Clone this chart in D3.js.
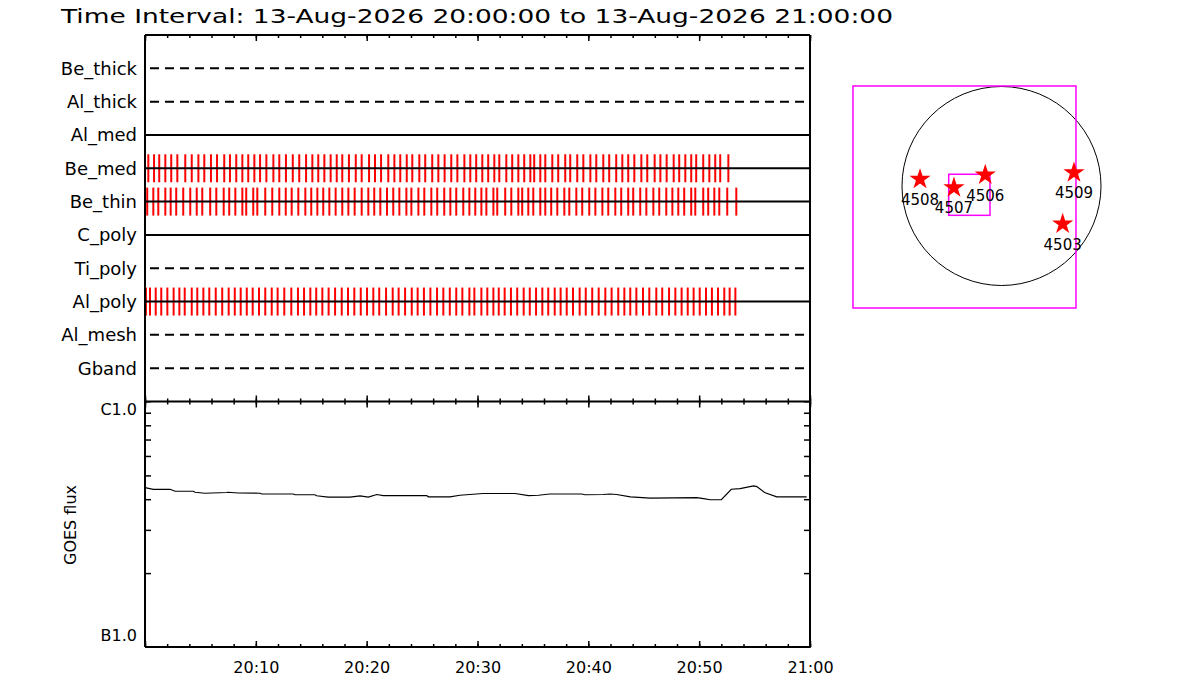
<!DOCTYPE html>
<html>
<head>
<meta charset="utf-8">
<script src="https://cdn.jsdelivr.net/npm/d3@7"></script>
<style>
	body { margin: 0; background: #fff; }
	text { font-family: "DejaVu Sans", sans-serif; fill: #000; }
</style>
</head>
<body>
<div id="chart"></div>
<script>

// ---- data ----
const titleText = "Time Interval: 13-Aug-2026 20:00:00 to 13-Aug-2026 21:00:00";
const startTime = Date.UTC(2026, 7, 13, 20, 0, 0);

const channels = ["Be_thick", "Al_thick", "Al_med", "Be_med", "Be_thin",
	"C_poly", "Ti_poly", "Al_poly", "Al_mesh", "Gband"];
const channelsObserved = ["Al_med", "Be_med", "Be_thin", "C_poly", "Al_poly"];

// exposure times, seconds after 20:00:00
const beMedTimes = [18, 49, 77, 110, 142, 175, 218, 253, 289, 321, 357, 390, 429, 460, 494,
	527, 559, 592, 623, 657, 695, 727, 763, 800, 835, 872, 906, 938, 971, 1005, 1038, 1068,
	1104, 1141, 1173, 1213, 1245, 1278, 1317, 1350, 1382, 1417, 1447, 1485, 1517, 1555, 1588,
	1622, 1658, 1691, 1729, 1761, 1793, 1826, 1858, 1891, 1918, 1956, 1988, 2021, 2053, 2086,
	2107, 2140, 2167, 2205, 2237, 2275, 2302, 2340, 2373, 2411, 2443, 2481, 2513, 2551, 2584,
	2616, 2649, 2687, 2719, 2759, 2790, 2824, 2862, 2892, 2925, 2957, 2984, 3022, 3055, 3087,
	3114, 3158];
const beThinTimes = [12, 45, 72, 110, 139, 169, 207, 245, 280, 310, 353, 386, 426, 456, 489,
	527, 548, 586, 608, 651, 689, 727, 762, 794, 830, 868, 900, 933, 965, 998, 1032, 1068,
	1101, 1135, 1173, 1209, 1241, 1274, 1310, 1344, 1377, 1415, 1442, 1480, 1512, 1550, 1582,
	1620, 1653, 1685, 1723, 1756, 1788, 1821, 1848, 1886, 1907, 1950, 1983, 2021, 2042, 2075,
	2102, 2140, 2167, 2199, 2232, 2270, 2297, 2335, 2367, 2405, 2438, 2476, 2508, 2546, 2578,
	2616, 2643, 2681, 2714, 2752, 2784, 2822, 2855, 2887, 2919, 2957, 2979, 3022, 3049, 3082,
	3109, 3152, 3201];
const alPolyTimes = [5, 27, 58, 88, 121, 155, 186, 215, 253, 283, 316, 348, 383, 418, 453,
	486, 518, 551, 583, 617, 651, 686, 718, 754, 792, 828, 861, 895, 927, 960, 994, 1029,
	1065, 1099, 1133, 1168, 1202, 1236, 1268, 1305, 1341, 1373, 1408, 1444, 1476, 1510, 1545,
	1581, 1615, 1650, 1685, 1718, 1756, 1783, 1821, 1853, 1886, 1915, 1947, 1981, 2015, 2050,
	2083, 2117, 2151, 2183, 2218, 2250, 2283, 2317, 2353, 2386, 2421, 2456, 2492, 2526, 2562,
	2595, 2627, 2660, 2696, 2730, 2768, 2800, 2837, 2871, 2905, 2938, 2970, 3003, 3037, 3069,
	3102, 3136, 3165, 3196];

// GOES low channel, seconds after 20:00:00 and flux (W/m^2)
const goesTimes = [0, 45, 136, 163, 262, 271, 325, 442, 451, 505, 623, 632, 803, 812, 920,
	929, 992, 1110, 1164, 1209, 1255, 1290, 1525, 1534, 1651, 1705, 1758, 1830, 2004, 2076,
	2130, 2190, 2364, 2382, 2481, 2517, 2553, 2628, 2736, 2988, 3024, 3060, 3120, 3174, 3222,
	3294, 3312, 3354, 3420, 3582];
const goesFlux = [4.46, 4.39, 4.39, 4.31, 4.31, 4.27, 4.23, 4.26, 4.27, 4.24, 4.23, 4.20,
	4.20, 4.17, 4.17, 4.13, 4.08, 4.08, 4.13, 4.08, 4.18, 4.14, 4.14, 4.09, 4.09, 4.15, 4.18,
	4.22, 4.22, 4.14, 4.15, 4.20, 4.20, 4.17, 4.18, 4.20, 4.18, 4.09, 4.04, 4.06, 4.02, 3.98,
	3.98, 4.39, 4.42, 4.53, 4.50, 4.26, 4.09, 4.09].map(v => v * 1e-7);
const goesTickValues = [1e-7, 1e-6];
const goesTickLabels = ["B1.0", "C1.0"];

// active regions, solar X/Y in arcsec
const regionNames = ["4508", "4507", "4506", "4509", "4503"];
const regionX = [-778, -454, -155, 692, 584];
const regionY = [64, -16, 105, 127, -363];
const solarRadius = 950;
const fovX = [-1418, 711];
const fovY = [-1165, 955];
const zoomX = [-504, -110];
const zoomY = [-280, 112];

// ---- layout ----
const width = 1200, height = 700;
const plot = { left: 145, right: 810, top: 35, mid: 401.5, bottom: 647 };

const svg = d3.select("#chart")
	.append("svg")
	.attr("width", width)
	.attr("height", height);

svg.append("rect").attr("width", width).attr("height", height).attr("fill", "#fff");

const t = s => new Date(startTime + s * 1000);

const xScale = d3.scaleUtc()
	.domain([t(0), t(3600)])
	.range([plot.left, plot.right]);

const yChannel = d3.scalePoint()
	.domain(channels)
	.range([plot.top, plot.mid])
	.padding(1);

const yGoes = d3.scaleLog()
	.domain([1e-7, 1e-6])
	.range([plot.bottom, plot.mid]);

// title
svg.append("text")
	.attr("x", 61)
	.attr("y", 23)
	.attr("font-size", 19)
	.attr("textLength", 832)
	.attr("lengthAdjust", "spacingAndGlyphs")
	.text(titleText);

// ---- channel panel ----
const exposures = { "Be_med": beMedTimes, "Be_thin": beThinTimes, "Al_poly": alPolyTimes };
const halfTick = yChannel.step() * 0.42;

Object.keys(exposures).forEach(ch => {
	svg.append("g")
		.selectAll("line")
		.data(exposures[ch])
		.join("line")
		.attr("x1", d => xScale(t(d)))
		.attr("x2", d => xScale(t(d)))
		.attr("y1", yChannel(ch) - halfTick)
		.attr("y2", yChannel(ch) + halfTick)
		.attr("stroke", "#ff0000")
		.attr("stroke-width", 2);
});

svg.append("g")
	.selectAll("line")
	.data(channels)
	.join("line")
	.attr("x1", d => channelsObserved.includes(d) ? plot.left : plot.left + 5)
	.attr("x2", d => channelsObserved.includes(d) ? plot.right : plot.right - 5)
	.attr("y1", d => yChannel(d))
	.attr("y2", d => yChannel(d))
	.attr("stroke", "#000")
	.attr("stroke-width", 2)
	.attr("stroke-dasharray", d => channelsObserved.includes(d) ? null : "9,6");

svg.append("g")
	.selectAll("text")
	.data(channels)
	.join("text")
	.attr("x", 137)
	.attr("y", d => yChannel(d) + 6.5)
	.attr("text-anchor", "end")
	.attr("font-size", 18)
	.text(d => d);

// ---- GOES panel ----
const goes = goesTimes.map((s, i) => ({ date: t(s), flux: goesFlux[i] }));

svg.append("path")
	.datum(goes)
	.attr("fill", "none")
	.attr("stroke", "#000")
	.attr("stroke-width", 1.2)
	.attr("d", d3.line()
		.x(d => xScale(d.date))
		.y(d => yGoes(d.flux)));

const minorFlux = d3.range(2, 10).map(k => k * 1e-7);

svg.append("g")
	.attr("transform", `translate(${plot.left},0)`)
	.call(d3.axisRight(yGoes).tickValues(minorFlux).tickSize(6).tickFormat(""));
svg.append("g")
	.attr("transform", `translate(${plot.right},0)`)
	.call(d3.axisLeft(yGoes).tickValues(minorFlux).tickSize(6).tickFormat(""));

svg.append("g")
	.selectAll("text")
	.data(goesTickValues)
	.join("text")
	.attr("x", 137)
	.attr("y", (d, i) => i === 0 ? yGoes(d) - 6 : yGoes(d) + 13)
	.attr("text-anchor", "end")
	.attr("font-size", 16)
	.text((d, i) => goesTickLabels[i]);

svg.append("text")
	.attr("transform", "translate(76,525) rotate(-90)")
	.attr("text-anchor", "middle")
	.attr("font-size", 16)
	.text("GOES flux");

// ---- time axes ----
const minor = d3.utcMinute.every(2);
const major = d3.utcMinute.every(10);

function timeTicks(y, up, down) {
	if (up) {
		svg.append("g").attr("class", "axis").attr("transform", `translate(0,${y})`)
			.call(d3.axisTop(xScale).ticks(minor).tickSize(up).tickFormat(""));
		svg.append("g").attr("class", "axis").attr("transform", `translate(0,${y})`)
			.call(d3.axisTop(xScale).ticks(major).tickSize(up * 2).tickFormat(""));
	}
	if (down) {
		svg.append("g").attr("class", "axis").attr("transform", `translate(0,${y})`)
			.call(d3.axisBottom(xScale).ticks(minor).tickSize(down).tickFormat(""));
		svg.append("g").attr("class", "axis").attr("transform", `translate(0,${y})`)
			.call(d3.axisBottom(xScale).ticks(major).tickSize(down * 2).tickFormat(""));
	}
}
timeTicks(plot.top, 0, 3);
timeTicks(plot.mid, 3, 3);
timeTicks(plot.bottom, 3, 0);

svg.append("g")
	.attr("class", "axis labels")
	.attr("transform", `translate(0,${plot.bottom})`)
	.call(d3.axisBottom(xScale)
		.tickValues(d3.range(600, 3601, 600).map(t))
		.tickSize(0)
		.tickPadding(15)
		.tickFormat(d3.utcFormat("%H:%M")));

svg.selectAll(".axis .domain").remove();
svg.selectAll(".axis line").attr("stroke", "#000").attr("stroke-width", 2);
svg.selectAll(".labels text")
	.attr("font-size", 16)
	.attr("font-family", "DejaVu Sans, sans-serif")
	.attr("fill", "#000");
svg.selectAll("g").filter(function() { return !this.classList.contains("axis"); })
	.selectAll(".tick line").attr("stroke", "#000").attr("stroke-width", 1.5);
svg.selectAll(".tick text").filter(function() { return this.textContent === ""; }).remove();

// frame
const frame = svg.append("g").attr("stroke", "#000").attr("stroke-width", 2);
[plot.top, plot.mid, plot.bottom].forEach(y => {
	frame.append("line").attr("x1", plot.left).attr("x2", plot.right).attr("y1", y).attr("y2", y);
});
[plot.left, plot.right].forEach(x => {
	frame.append("line").attr("x1", x).attr("x2", x).attr("y1", plot.top).attr("y2", plot.bottom);
});

// ---- solar map ----
const mapX = d3.scaleLinear().domain([-solarRadius, solarRadius]).range([902, 1101]);
const mapY = d3.scaleLinear().domain([-solarRadius, solarRadius]).range([285.5, 86.5]);

svg.append("circle")
	.attr("cx", mapX(0))
	.attr("cy", mapY(0))
	.attr("r", mapX(solarRadius) - mapX(0))
	.attr("fill", "none")
	.attr("stroke", "#000")
	.attr("stroke-width", 1);

[[fovX, fovY], [zoomX, zoomY]].forEach(([bx, by]) => {
	svg.append("rect")
		.attr("x", mapX(bx[0]))
		.attr("y", mapY(by[1]))
		.attr("width", mapX(bx[1]) - mapX(bx[0]))
		.attr("height", mapY(by[0]) - mapY(by[1]))
		.attr("fill", "none")
		.attr("stroke", "#ff00ff")
		.attr("stroke-width", 1.5);
});

const regions = regionNames.map((n, i) => ({ name: n, x: regionX[i], y: regionY[i] }));

svg.append("g")
	.selectAll("path")
	.data(regions)
	.join("path")
	.attr("transform", d => `translate(${mapX(d.x)},${mapY(d.y)})`)
	.attr("d", d3.symbol(d3.symbolStar, 140))
	.attr("fill", "#ff0000");

svg.append("g")
	.selectAll("text")
	.data(regions)
	.join("text")
	.attr("x", d => mapX(d.x))
	.attr("y", d => mapY(d.y) + 25.5)
	.attr("text-anchor", "middle")
	.attr("font-size", 15)
	.text(d => d.name);

</script>
</body>
</html>
